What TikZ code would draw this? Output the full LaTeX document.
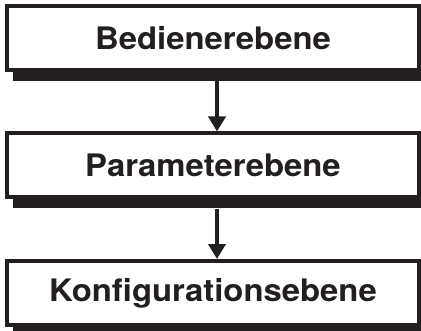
\documentclass[tikz,border=0pt]{standalone}
\usepackage{fontspec}
\setmainfont{TeX Gyre Heros}[FakeStretch=1.06]
\usetikzlibrary{arrows.meta,shadows}
\definecolor{ink}{HTML}{231F20}
\begin{document}
\begin{tikzpicture}[x=1pt,y=1pt,
  levelbox/.style={draw=ink, line width=4pt, fill=white, inner sep=0pt,
    minimum width=411.4pt, minimum height=64pt,
    font=\fontsize{31}{36}\selectfont\bfseries, text=ink,
    drop shadow={shadow xshift=6pt, shadow yshift=-11pt, fill=ink, opacity=1}},
  flow/.style={draw=ink, line width=4pt, -{Triangle[length=15pt,width=17pt]}}]
  % canvas
  \path[use as bounding box, fill=white] (0,0) rectangle (421,330);
  % the three levels
  \node[levelbox] (oper) at (213,292) {Bedienerebene};
  \node[levelbox] (param) at (213,164.5) {Parameterebene};
  \node[levelbox] (config) at (213,37) {Konfigurationsebene};
  % downward arrows
  \draw[flow] ([xshift=4pt,yshift=-9.5pt]oper.south) -- ([xshift=4pt]param.north);
  \draw[flow] ([xshift=4pt,yshift=-9.5pt]param.south) -- ([xshift=4pt]config.north);
\end{tikzpicture}
\end{document}
